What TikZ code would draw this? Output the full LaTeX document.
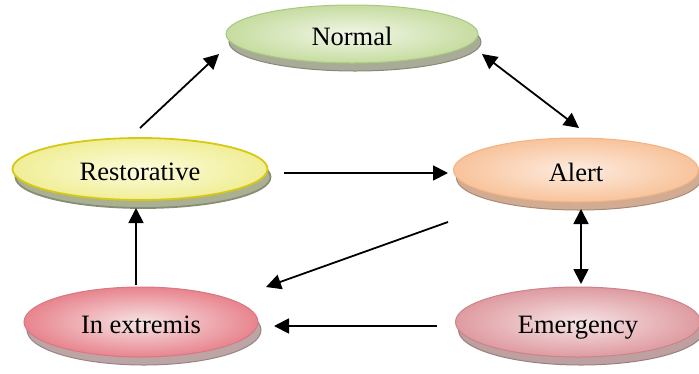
\documentclass[tikz,border=0pt]{standalone}
\usepackage{fontspec}
\setmainfont{Liberation Serif}
\usetikzlibrary{shapes.geometric,shadows,arrows.meta,calc}
\makeatletter
\pgfdeclareradialshading[tikz@radial@inner,tikz@radial@outer]{softradial}{\pgfpointorigin}{color(0bp)=(tikz@radial@inner);color(12bp)=(tikz@radial@inner);color(44bp)=(tikz@radial@outer);color(50bp)=(tikz@radial@outer)}
\makeatother
\definecolor{nIn}{RGB}{242,247,232}
\definecolor{nOut}{RGB}{198,220,160}
\definecolor{nDr}{RGB}{170,200,130}
\definecolor{nSd}{RGB}{168,172,150}
\definecolor{rIn}{RGB}{252,252,222}
\definecolor{rOut}{RGB}{240,238,150}
\definecolor{rDr}{RGB}{215,200,20}
\definecolor{rSd}{RGB}{170,176,146}
\definecolor{aIn}{RGB}{253,236,224}
\definecolor{aOut}{RGB}{248,195,155}
\definecolor{aDr}{RGB}{240,180,130}
\definecolor{aSd}{RGB}{210,172,146}
\definecolor{iIn}{RGB}{246,228,228}
\definecolor{iOut}{RGB}{232,132,142}
\definecolor{iDr}{RGB}{215,120,130}
\definecolor{iSd}{RGB}{190,165,165}
\definecolor{eIn}{RGB}{246,228,230}
\definecolor{eOut}{RGB}{222,155,160}
\definecolor{eDr}{RGB}{205,130,140}
\definecolor{eSd}{RGB}{190,160,160}
\begin{document}
\begin{tikzpicture}[x=1pt,y=-1pt,
  state/.style={ellipse, inner sep=0pt, line width=1pt,
    text height=22pt, text depth=0pt,
    font=\fontsize{26.5}{30}\selectfont},
  sh/.style={drop shadow={shadow xshift=3pt, shadow yshift=-8pt, fill=#1, draw=#1!80!black, opacity=1}},
  arr/.style={line width=1.8pt, -{Triangle[length=15pt,width=15pt]}},
  darr/.style={line width=1.8pt, {Triangle[length=15pt,width=15pt]}-{Triangle[length=15pt,width=15pt]}}
]
\useasboundingbox (0,0) rectangle (699,373);

\node[state, sh=nSd, minimum width=252pt, minimum height=58pt, draw=nDr,
  shading=softradial, inner color=nIn, outer color=nOut] (n) at (352,34) {Normal};
\node[state, sh=rSd, minimum width=255pt, minimum height=62pt, draw=rDr, line width=1.8pt,
  shading=softradial, inner color=rIn, outer color=rOut] (r) at (140,169) {Restorative};
\node[state, sh=aSd, minimum width=245pt, minimum height=64pt, draw=aDr,
  shading=softradial, inner color=aIn, outer color=aOut] (a) at (576,170) {Alert};
\node[state, sh=iSd, minimum width=234pt, minimum height=70pt, draw=iDr,
  shading=softradial, inner color=iIn, outer color=iOut] (i) at (141,322) {In extremis};
\node[state, sh=eSd, minimum width=245pt, minimum height=70pt, draw=eDr,
  shading=softradial, inner color=eIn, outer color=eOut] (e) at (578,322) {Emergency};

\draw[arr]  ($(r.center)+(0,-41)$)   -- ($(n.center)+(-133,20)$);
\draw[darr] ($(n.center)+(130,20)$)  -- ($(a.center)+(3,-42)$);
\draw[arr]  ($(r.center)+(144,4)$)   -- ($(a.center)+(-128,3)$);
\draw[arr]  ($(a.center)+(-128,52)$) -- ($(i.center)+(125,-35)$);
\draw[darr] ($(a.center)+(5,39)$)    -- ($(e.center)+(3,-38)$);
\draw[arr]  ($(e.center)+(-141,4)$)  -- ($(i.center)+(133,4)$);
\draw[arr]  ($(i.center)+(-5,-37)$)  -- ($(r.center)+(-4,39)$);
\end{tikzpicture}
\end{document}
